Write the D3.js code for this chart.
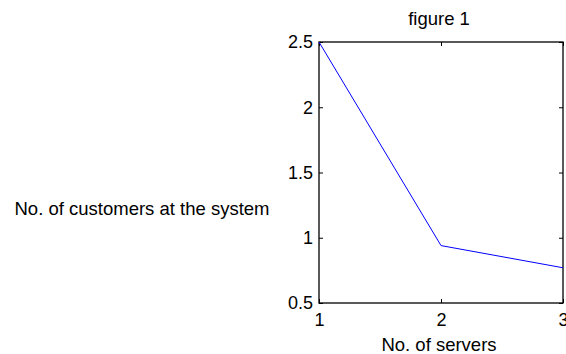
<!DOCTYPE html>
<html>
<head>
<meta charset="utf-8">
<script src="https://cdn.jsdelivr.net/npm/d3@7"></script>
<style>
  body { margin: 0; background: #fff; }
  text { font-family: "Liberation Sans", Arial, sans-serif; }
</style>
</head>
<body>
<div id="chart"></div>
<script>
// values
const servers = [1, 2, 3];
const customers = [2.5, 0.94, 0.77];
const xTicks = [1, 2, 3];
const yTicks = [0.5, 1, 1.5, 2, 2.5];

const width = 566,
  height = 354,
  margin = { top: 42, right: 3, bottom: 51, left: 319 };

const svg = d3.select("#chart")
  .append("svg")
  .attr("width", width)
  .attr("height", height);

const x = d3.scaleLinear().domain([1, 3]).range([margin.left, width - margin.right]);
const y = d3.scaleLinear().domain([0.5, 2.5]).range([height - margin.bottom, margin.top]);

const tickFont = 18,
  labelFont = 18.5;

// axes with inward ticks, mirrored on top and right
svg.append("g")
  .attr("transform", `translate(0,${height - margin.bottom})`)
  .call(d3.axisBottom(x).tickValues(xTicks).tickFormat(d3.format("d")).tickSize(-4).tickPadding(10))
  .call(g => g.select(".domain").remove())
  .call(g => g.selectAll("text").attr("font-size", tickFont).attr("font-family", null));

svg.append("g")
  .attr("transform", `translate(0,${margin.top})`)
  .call(d3.axisTop(x).tickValues(xTicks).tickFormat("").tickSize(-4))
  .call(g => g.select(".domain").remove());

svg.append("g")
  .attr("transform", `translate(${margin.left},0)`)
  .call(d3.axisLeft(y).tickValues(yTicks).tickFormat(d => d).tickSize(-4).tickPadding(6))
  .call(g => g.select(".domain").remove())
  .call(g => g.selectAll("text").attr("font-size", tickFont).attr("font-family", null));

svg.append("g")
  .attr("transform", `translate(${width - margin.right},0)`)
  .call(d3.axisRight(y).tickValues(yTicks).tickFormat("").tickSize(-4))
  .call(g => g.select(".domain").remove());

// box
svg.append("rect")
  .attr("x", margin.left)
  .attr("y", margin.top)
  .attr("width", width - margin.left - margin.right)
  .attr("height", height - margin.top - margin.bottom)
  .attr("fill", "none")
  .attr("stroke", "black")
  .attr("stroke-width", 1.3);

const line = d3.line()
  .x((d, i) => x(servers[i]))
  .y(d => y(d));

svg.append("path")
  .datum(customers)
  .attr("fill", "none")
  .attr("stroke", "#0000ff")
  .attr("stroke-width", 1)
  .attr("d", line);

svg.append("text")
  .attr("x", 439)
  .attr("y", 25)
  .attr("text-anchor", "middle")
  .attr("font-size", labelFont)
  .text("figure 1");

svg.append("text")
  .attr("x", 439)
  .attr("y", 351)
  .attr("text-anchor", "middle")
  .attr("font-size", labelFont)
  .text("No. of servers");

svg.append("text")
  .attr("x", 142)
  .attr("y", 215)
  .attr("text-anchor", "middle")
  .attr("font-size", labelFont)
  .text("No. of customers at the system");
</script>
</body>
</html>
